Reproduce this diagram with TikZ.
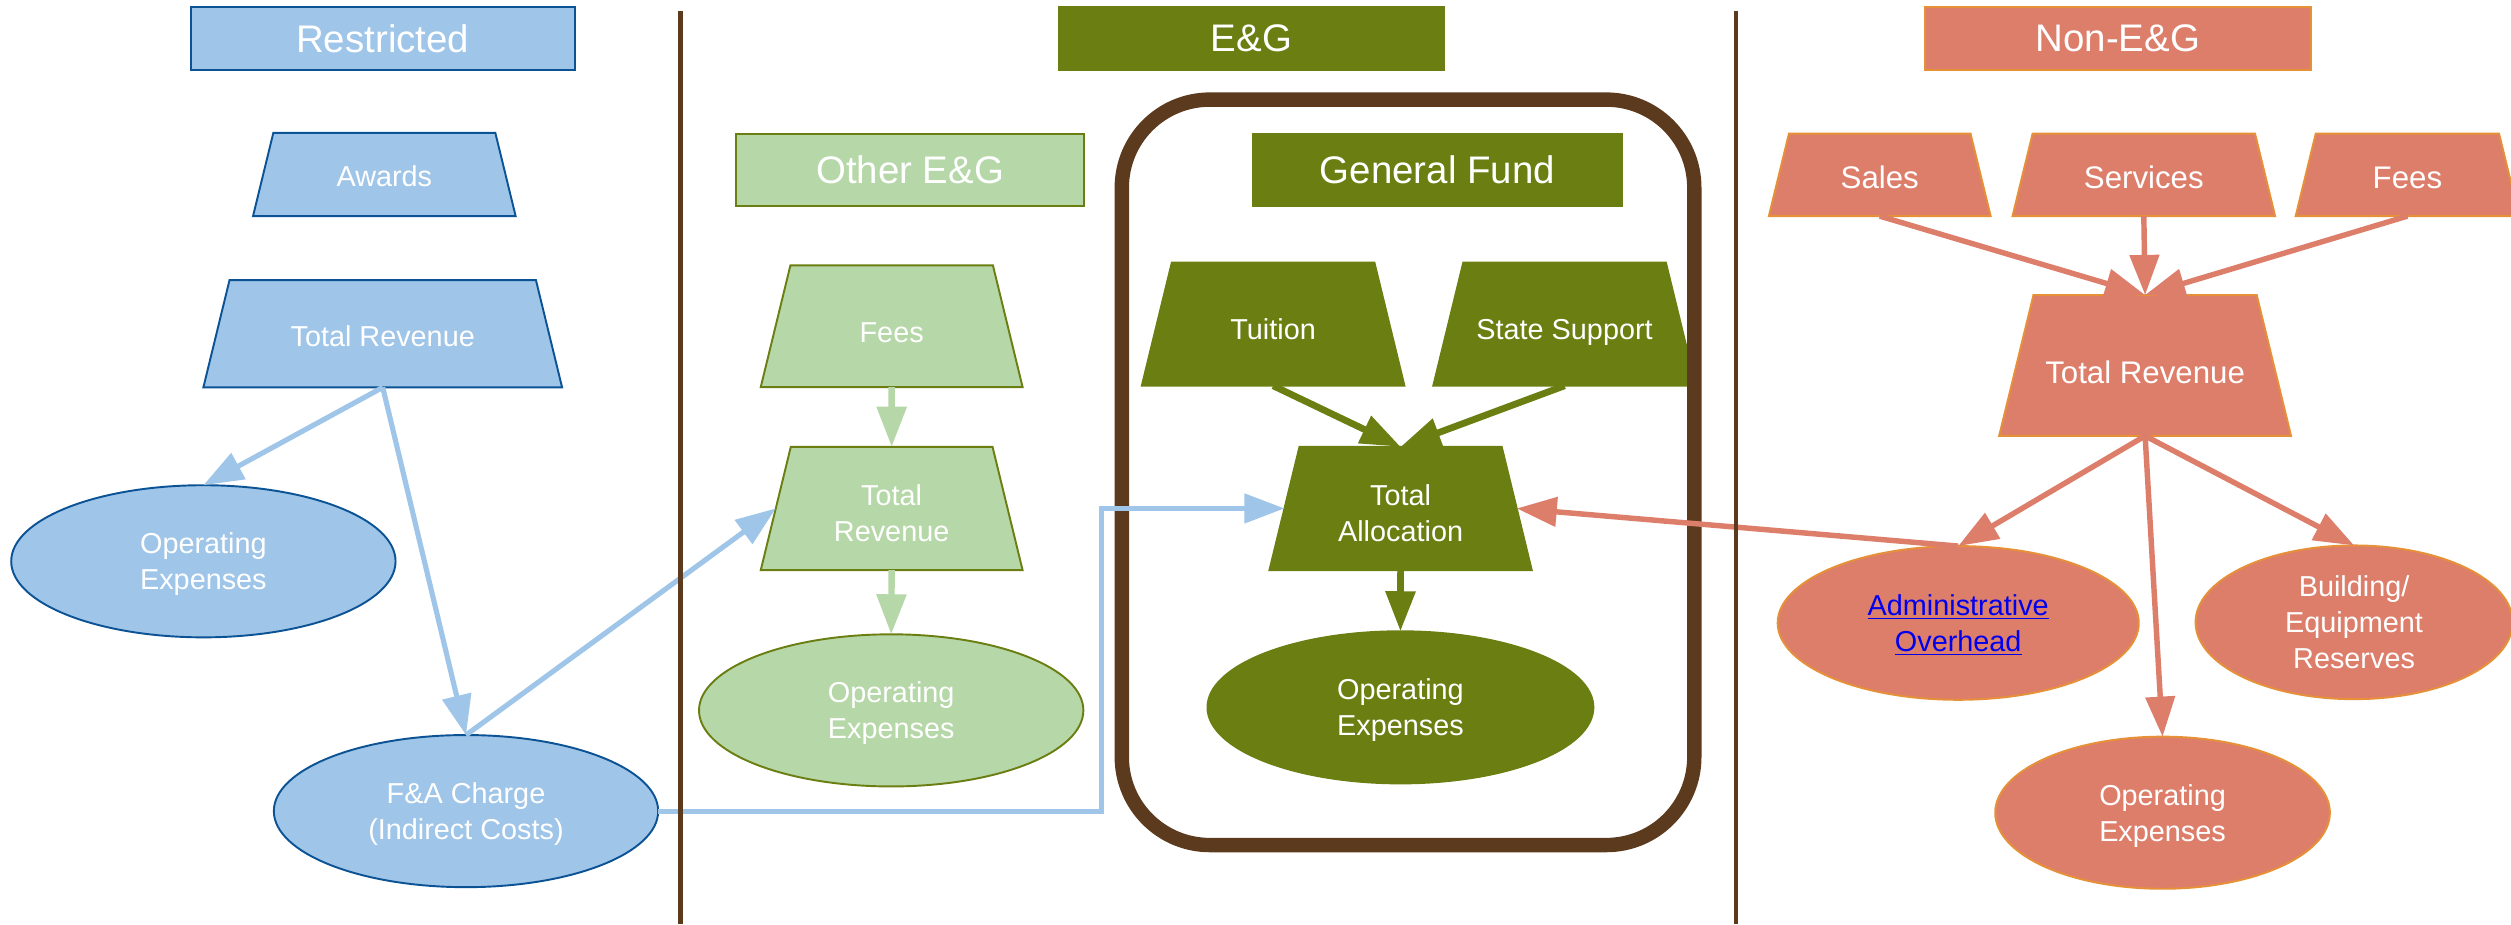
\documentclass[tikz,border=0pt]{standalone}
\usepackage{fontspec}
\setmainfont{Liberation Sans}
\usetikzlibrary{shapes.geometric,arrows.meta}
\definecolor{rblue}{HTML}{9FC5E8}
\definecolor{rline}{HTML}{0B5394}
\definecolor{lgreen}{HTML}{B6D7A8}
\definecolor{olivec}{HTML}{6A7E12}
\definecolor{salmon}{HTML}{DD7E6B}
\definecolor{sline}{HTML}{E69138}
\definecolor{brownline}{HTML}{5C3A1E}
\definecolor{linkblue}{HTML}{0000EE}
\tikzset{
  base/.style={text=white, inner sep=0pt, outer sep=0pt, align=center, line width=1.2pt},
  titlebox/.style={base, rectangle, draw, font=\fontsize{24}{28}\selectfont},
  trap/.style={base, trapezium, trapezium angle=76.3, trapezium stretches body, draw, font=\fontsize{18}{22.5}\selectfont},
  vt/.style 2 args={text height=#1pt, text depth=5pt, inner ysep=#2pt},
  ell/.style={base, ellipse, draw, font=\fontsize{18}{22.5}\selectfont, text height=35.5pt, text depth=0pt},
  rest/.style={fill=rblue, draw=rline},
  oth/.style={fill=lgreen, draw=olivec},
  gen/.style={fill=olivec, draw=olivec},
  non/.style={fill=salmon, draw=sline},
  bigfont/.style={font=\fontsize{19.5}{24}\selectfont},
  tip/.style={-{Triangle[length=25pt,width=18pt]}},
  barr/.style={tip, draw=rblue, line width=3.2pt},
  garr/.style={tip, draw=lgreen, line width=4pt},
  oarr/.style={tip, draw=olivec, line width=4.2pt},
  sarr/.style={tip, draw=salmon, line width=3.4pt},
  divider/.style={draw=brownline, line width=3pt},
  gfbox/.style={draw=brownline, line width=9pt, rounded corners=55pt},
}
\begin{document}
\begin{tikzpicture}[x=1pt,y=-1pt]
\useasboundingbox (0,0) rectangle (1568,577);
\clip (0,0) rectangle (1568,577);

% Restricted
\node[titlebox, rest, minimum width=240pt, minimum height=39pt] (rtitle) at (239,24) {Restricted};
\node[trap, rest, minimum width=164pt, vt={20.5}{13.25}] (awards) at (240,109) {Awards};
\node[trap, rest, minimum width=224pt, vt={20.5}{20.75}] (rtr) at (239,208.4) {Total Revenue};
\node[ell, rest, minimum width=240pt, minimum height=95pt] (rop) at (127,350.5) {Operating\\Expenses};
\node[ell, rest, minimum width=240pt, minimum height=95pt] (fa) at (291,506.5) {F\&A Charge\\(Indirect Costs)};

% E&G
\node[titlebox, gen, minimum width=241pt, minimum height=39pt] (etitle) at (781.5,24) {E\&G};
\node[titlebox, oth, minimum width=217pt, minimum height=45pt] (otitle) at (568.3,106.2) {Other E\&G};
\node[trap, oth, minimum width=163.5pt, vt={25.1}{22.95}] (ofees) at (556.8,203.7) {Fees};
\node[trap, oth, minimum width=163.5pt, vt={46.4}{12.8}] (otr) at (556.8,317.5) {Total\\Revenue};
\node[ell, oth, minimum width=240pt, minimum height=95pt] (oop) at (556.5,443.6) {Operating\\Expenses};

\node[titlebox, gen, minimum width=230pt, minimum height=45pt] (gtitle) at (897.6,106.2) {General Fund};
\node[trap, gen, minimum width=164pt, vt={24.5}{23.75}] (tuition) at (795,202.4) {Tuition};
\node[trap, gen, minimum width=164pt, vt={24.5}{23.75}] (state) at (977,202.4) {State Support};
\node[trap, gen, minimum width=163.8pt, vt={46.4}{12.8}] (ta) at (874.6,317.5) {Total\\Allocation};
\node[ell, gen, minimum width=241pt, minimum height=95pt] (gop) at (874.5,441.7) {Operating\\Expenses};

% Non-E&G
\node[titlebox, non, minimum width=241pt, minimum height=39pt] (ntitle) at (1322.5,24) {Non-E\&G};
\node[trap, non, bigfont, minimum width=138.5pt, vt={21.96}{12.27}] (sales) at (1173.8,109.2) {Sales};
\node[trap, non, bigfont, minimum width=164pt, vt={21.96}{12.27}] (services) at (1338.7,109.2) {Services};
\node[trap, non, bigfont, minimum width=139.6pt, vt={21.96}{12.27}] (nfees) at (1503.3,109.2) {Fees};
\node[trap, non, bigfont, minimum width=182.3pt, vt={26.96}{28.02}] (ntr) at (1339.5,228.2) {Total Revenue};
\node[ell, non, minimum width=225.5pt, minimum height=96pt] (admin) at (1222.8,389) {\textcolor{linkblue}{\underline{Administrative}}\\\textcolor{linkblue}{\underline{Overhead}}};
\node[ell, non, minimum width=198pt, minimum height=96pt, text height=58pt] (bld) at (1470,388.6) {Building/\\Equipment\\Reserves};
\node[ell, non, minimum width=209pt, minimum height=95pt] (nop) at (1350.4,507.5) {Operating\\Expenses};

% General Fund frame
\draw[gfbox] (700.5,62.2) rectangle (1058,527.7);

% connectors: Restricted
\draw[barr] (rtr.south) -- (rop.north);
\draw[barr] (rtr.south) -- (fa.north);
\draw[barr] (fa.north) -- (otr.west);
\coordinate (bend) at (688,0);
\draw[barr] (fa.east) -- (fa.east -| bend) |- (ta.west);

% Other E&G
\draw[garr] (ofees.south) -- (otr.north);
\draw[garr] (otr.south) -- (oop.north);

% General Fund
\draw[oarr] (tuition.south) -- (ta.north);
\draw[oarr] (state.south) -- (ta.north);
\draw[oarr] (ta.south) -- (gop.north);

% Non-E&G
\draw[sarr] (sales.south) -- (ntr.north);
\draw[sarr] (services.south) -- (ntr.north);
\draw[sarr] (nfees.south) -- (ntr.north);
\draw[sarr] (ntr.south) -- (admin.north);
\draw[sarr] (ntr.south) -- (nop.north);
\draw[sarr] (ntr.south) -- (bld.north);
\draw[sarr] (admin.north) -- (ta.east);

% dividers
\draw[divider] (425,7) -- (425,577);
\draw[divider] (1084,7) -- (1084,577);
\end{tikzpicture}
\end{document}
